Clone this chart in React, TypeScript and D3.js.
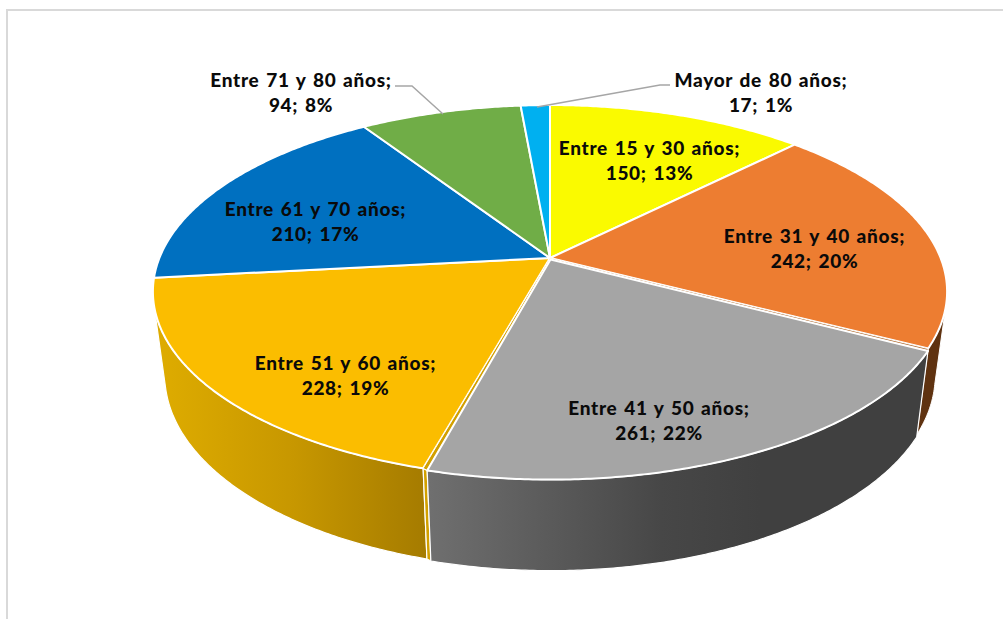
import React from "react";
import * as d3 from "d3";

const categories = ["Entre 15 y 30 años", "Entre 31 y 40 años", "Entre 41 y 50 años", "Entre 51 y 60 años", "Entre 61 y 70 años", "Entre 71 y 80 años", "Mayor de 80 años"];
const values = [150, 242, 261, 228, 210, 94, 17];
const percents = [13, 20, 22, 19, 17, 8, 1];
const colors = ["#FAFA00", "#ED7D31", "#A5A5A5", "#FBBD00", "#0070C0", "#70AD47", "#00B0F0"];

// layout (not data)
const labelAt: [number, number][] = [[649.5, 155], [814.5, 243], [659, 415], [345.5, 370], [315.5, 216], [301, 87], [761, 87]];
const W = 1003, H = 619;
const CX = 550, CY = 258, A = 390.6, B = 180.5, K = -0.18;
const SHRINK = 0.97;
const RAD = Math.PI / 180;
const GREY_SHIFT: [number, number] = [0.5, 1.5];
const GREY_INSET_START = 0.25 * RAD;
const GREY_INSET_END = 0.45 * RAD;

const sx = d3.scaleLinear().domain([-1, 1]).range([CX - A, CX + A]);
const sy = d3.scaleLinear().domain([-1, 1]).range([CY - B, CY + B]);
const depth = d3.scaleLinear().domain([347, 478]).range([86, 91]);

type P = [number, number];
// unit-circle angle (clockwise from 12 o'clock) -> screen, with perspective
const rim = (t: number, r = 1): P => {
  const X = r * Math.sin(t), Y = -r * Math.cos(t), w = 1 + K * Y;
  return [sx(X / w), sy(Y / w)];
};
const lower = (p: P): P => [CX + (p[0] - CX) * SHRINK, p[1] + depth(p[1])];
const shift = (p: P, s: P): P => [p[0] + s[0], p[1] + s[1]];
const line = d3.line<P>().curve(d3.curveLinear);
const samples = (a: number, b: number) => {
  const n = Math.max(4, Math.ceil(Math.abs(b - a) / (0.5 * RAD)));
  return d3.range(n + 1).map((i) => a + ((b - a) * i) / n);
};

const arcs = d3.pie<number>().sort(null).startAngle(0).endAngle(2 * Math.PI)(values);

const wedge = (a: number, b: number, s: P = [0, 0]) =>
  line([rim(0, 0), ...samples(a, b).map((t) => rim(t))].map((p) => shift(p, s)))! + "Z";
const wall = (a: number, b: number, s: P = [0, 0]) => {
  const top = samples(a, b).map((t) => rim(t));
  return line([...top, ...top.slice().reverse().map(lower)].map((p) => shift(p, s)))! + "Z";
};

const FONT = { fontFamily: "Lato", fontWeight: 900, fontSize: 19, letterSpacing: 0.7, wordSpacing: 1.5, fill: "#0a0a0a" } as const;

export default function App() {
  const [o, g, y] = [arcs[1], arcs[2], arcs[3]];
  const rightStart = 103 * RAD;
  const leftEnd = 256 * RAD;
  const apex = rim(0, 0);
  const gStart = g.startAngle + GREY_INSET_START;
  const gEnd = g.endAngle - GREY_INSET_END;
  const gy = rim(g.endAngle);
  const go = rim(g.startAngle);
  const gyIn = shift(rim(gEnd), GREY_SHIFT);
  const goIn = shift(rim(gStart), GREY_SHIFT);
  const strip = (p: P, q: P) => line([apex, p, q, shift(apex, GREY_SHIFT)])! + "Z";
  const gLow = lower(gy);
  const gyLow = lower(rim(gEnd));
  return (
    <svg width={W} height={H} style={{ position: "fixed", left: 0, top: 0, display: "block", background: "#fff" }}>
      <defs>
        <linearGradient id="goldWall" gradientUnits="userSpaceOnUse" x1={165} x2={423} y1={0} y2={0}>
          <stop offset="0" stopColor="#DDAB00" />
          <stop offset="0.5" stopColor="#C79700" />
          <stop offset="1" stopColor="#A67C00" />
        </linearGradient>
        <linearGradient id="greyWall" gradientUnits="userSpaceOnUse" x1={430} x2={760} y1={0} y2={0}>
          <stop offset="0" stopColor="#6F6F6F" />
          <stop offset="0.7" stopColor="#474747" />
          <stop offset="1" stopColor="#404040" />
        </linearGradient>
      </defs>

      <path d={`M${W},10 H7 V${H}`} fill="none" stroke="#D9D9D9" strokeWidth={2} />

      {/* side walls */}
      <path d={wall(rightStart, o.endAngle)} fill="#5F3210" stroke="#fff" strokeWidth={1} />
      <path d={wall(y.startAngle, leftEnd)} fill="url(#goldWall)" stroke="#fff" strokeWidth={1.2} />
      <path d={line([gy, gyIn, shift(gyLow, GREY_SHIFT), gLow])! + "Z"} fill="#D2A000" stroke="#fff" strokeWidth={1.2} />
      <path d={wall(gStart, gEnd, GREY_SHIFT)} fill="url(#greyWall)" stroke="#fff" strokeWidth={1.2} />

      {/* top faces */}
      {arcs.map((d, i) => i === 2 ? null : (
        <path key={categories[i]} d={wedge(d.startAngle, d.endAngle)} fill={colors[i]} stroke="#fff" strokeWidth={2} strokeLinejoin="round" />
      ))}
      <path d={strip(gy, gyIn)} fill="#D2A000" stroke="#fff" strokeWidth={1} />
      <path d={strip(go, goIn)} fill="#B5763F" stroke="#fff" strokeWidth={1} />
      <path d={wedge(gStart, gEnd, GREY_SHIFT)} fill={colors[2]} stroke="#fff" strokeWidth={2} strokeLinejoin="round" />

      {/* leader lines */}
      <path d="M395,86 H412 L443,114" fill="none" stroke="#A6A6A6" strokeWidth={1.5} />
      <path d="M670,85 H660 L537,107" fill="none" stroke="#A6A6A6" strokeWidth={1.5} />

      {/* labels */}
      {categories.map((c, i) => (
        <text key={c} x={labelAt[i][0]} y={labelAt[i][1]} textAnchor="middle" style={FONT}>
          <tspan x={labelAt[i][0]}>{c};</tspan>
          <tspan x={labelAt[i][0]} dy={25}>{`${values[i]}; ${percents[i]}%`}</tspan>
        </text>
      ))}
    </svg>
  );
}
